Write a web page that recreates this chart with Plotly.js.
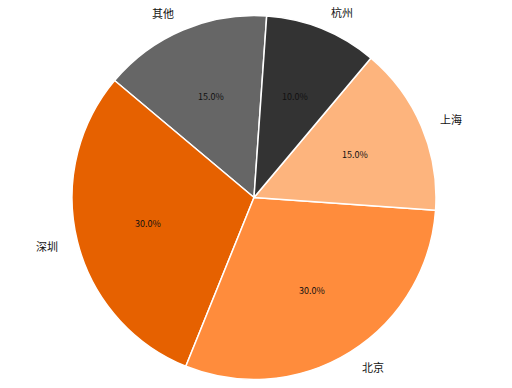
<!DOCTYPE html>
<html><head><meta charset="utf-8">
<script src="https://cdn.plot.ly/plotly-3.0.1.min.js"></script>
<style>body{margin:0;background:#fff}#c{width:512px;height:388px}</style>
</head><body><div id="c"></div>
<script>
const labels = ['其他', '深圳', '北京', '上海', '杭州'];
const values = [15, 30, 30, 15, 10];
const colors = ['#666666', '#E66100', '#FF8C3C', '#FDB47D', '#333333'];
const startAngle = 86; // degrees, math convention; slices run counterclockwise

const W = 512, H = 388, cx = 254, cy = 197.5, R = 182;
const font = '"Noto Sans CJK SC", "DejaVu Sans", sans-serif';

const total = values.reduce((a, b) => a + b, 0);
const firstSpan = values[0] / total * 360;
const annotations = [];
let a0 = startAngle;
values.forEach((v, i) => {
  const span = v / total * 360;
  const mid = (a0 + span / 2) * Math.PI / 180;
  a0 += span;
  const c = Math.cos(mid), s = Math.sin(mid);
  annotations.push({
    xref: 'paper', yref: 'paper',
    x: (cx + 1.1 * R * c) / W, y: 1 - (cy - 1.1 * R * s) / H,
    text: labels[i], showarrow: false,
    xanchor: c >= 0 ? 'left' : 'right', yanchor: 'middle',
    font: {family: font, size: 11, color: '#111'}
  });
  annotations.push({
    xref: 'paper', yref: 'paper',
    x: (cx + 0.6 * R * c) / W, y: 1 - (cy - 0.6 * R * s) / H,
    text: (v / total * 100).toFixed(1) + '%', showarrow: false,
    xanchor: 'center', yanchor: 'middle',
    font: {family: font, size: 9, color: '#111'}
  });
});

const trace = {
  type: 'pie',
  labels: labels,
  values: values,
  sort: false,
  direction: 'counterclockwise',
  rotation: -(startAngle + firstSpan - 90),
  textinfo: 'none',
  hoverinfo: 'none',
  marker: {colors: colors, line: {color: '#ffffff', width: 1.5}},
  domain: {x: [(cx - R) / W, (cx + R) / W], y: [1 - (cy + R) / H, 1 - (cy - R) / H]}
};

Plotly.newPlot('c', [trace], {
  width: W, height: H,
  margin: {l: 0, r: 0, t: 0, b: 0},
  showlegend: false,
  paper_bgcolor: '#fff',
  annotations: annotations
}, {staticPlot: true});
</script></body></html>
